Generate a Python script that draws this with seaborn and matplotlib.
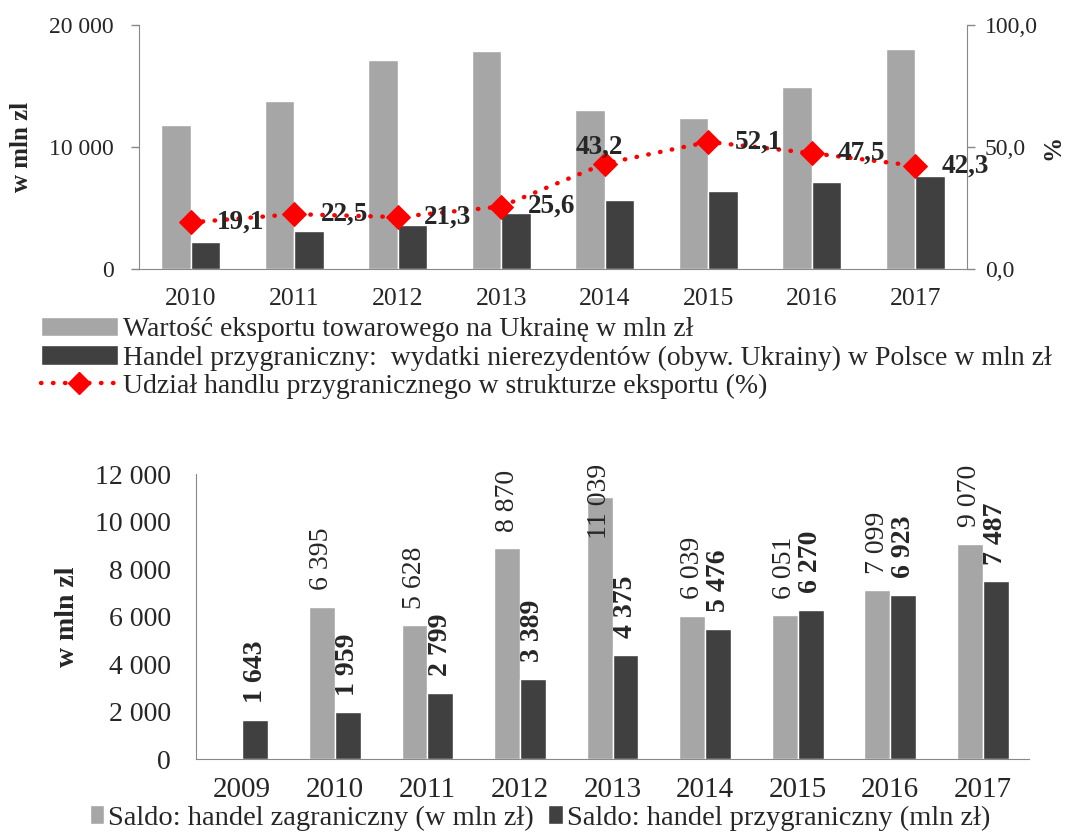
import numpy as np
import pandas as pd
import matplotlib
matplotlib.use('Agg')
import matplotlib.pyplot as plt
import seaborn as sns
from matplotlib.patches import Patch
from matplotlib.lines import Line2D
from matplotlib.ticker import FuncFormatter, FixedLocator

# ---------- Data: top chart ----------
years_top = ['2010', '2011', '2012', '2013', '2014', '2015', '2016', '2017']
export_value = [11800, 13800, 17100, 17900, 13000, 12350, 14950, 18050]
border_spending = [2250, 3100, 3640, 4590, 5620, 6430, 7100, 7630]
border_share = [19.1, 22.5, 21.3, 25.6, 43.2, 52.1, 47.5, 42.3]
top_series = ['Wartość eksportu towarowego na Ukrainę w mln zł',
              'Handel przygraniczny:  wydatki nierezydentów (obyw. Ukrainy) w Polsce w mln zł',
              'Udział handlu przygranicznego w strukturze eksportu (%)']

# ---------- Data: bottom chart ----------
years_bottom = ['2009', '2010', '2011', '2012', '2013', '2014', '2015', '2016', '2017']
saldo_foreign = [np.nan, 6395, 5628, 8870, 11039, 6039, 6051, 7099, 9070]
saldo_border = [1643, 1959, 2799, 3389, 4375, 5476, 6270, 6923, 7487]
bottom_series = ['Saldo: handel zagraniczny (w mln zł)',
                 'Saldo: handel przygraniczny (mln zł)']

LIGHT = '#A6A6A6'
DARK = '#404040'
AXIS = '#888888'

sns.set_style('white')
plt.rcParams['font.family'] = ['Liberation Serif', 'DejaVu Serif']

fig = plt.figure(figsize=(10.83, 8.36), dpi=100)

def thousands(v, pos=None):
    return f'{v:,.0f}'.replace(',', ' ')

# ---------- Top chart ----------
ax1 = fig.add_axes([0.1283, 0.6782, 0.7645, 0.2919])
df_top = pd.DataFrame({
    'Rok': years_top * 2,
    'Seria': [top_series[0]] * len(years_top) + [top_series[1]] * len(years_top),
    'Wartosc': export_value + border_spending,
})
sns.barplot(data=df_top, x='Rok', y='Wartosc', hue='Seria', palette=[LIGHT, DARK],
            width=0.57, gap=0, saturation=1, errorbar=None, legend=False, ax=ax1)
ax1.set_xlim(-0.5, len(years_top) - 0.5)
ax1.set_ylim(0, 20000)
ax1.set_yticks([0, 10000, 20000])
ax1.yaxis.set_major_formatter(FuncFormatter(thousands))
ax1.set_xlabel('')
ax1.set_ylabel('w mln zl', fontsize=18, fontweight='bold')
ax1.yaxis.set_label_coords(-0.128, 0.5)
ax1.xaxis.set_minor_locator(FixedLocator(np.arange(-0.5, len(years_top), 1)))
ax1.tick_params(axis='x', which='major', length=0, pad=14, labelsize=18.5)
ax1.tick_params(axis='x', which='minor', length=6, width=1, color=AXIS, direction='out')
ax1.tick_params(axis='y', length=6, width=1, color=AXIS, direction='out', pad=12, labelsize=17)
for s in ['top', 'right']:
    ax1.spines[s].set_visible(False)
for s in ['left', 'bottom']:
    ax1.spines[s].set_color(AXIS)

ax2 = ax1.twinx()
sns.lineplot(x=np.arange(len(years_top)), y=border_share, ax=ax2, color='red',
             linestyle=(0, (0.1, 2.6)), linewidth=3.2, dash_capstyle='round',
             marker='D', markersize=12, markeredgecolor='red')
ax2.set_xlim(-0.5, len(years_top) - 0.5)
ax2.set_ylim(0, 100)
ax2.set_yticks([0, 50, 100])
ax2.yaxis.set_major_formatter(FuncFormatter(lambda v, p: f'{v:.1f}'.replace('.', ',')))
ax2.tick_params(axis='y', length=6, width=1, color=AXIS, direction='out', pad=7, labelsize=17)
ax2.set_ylabel('%', fontsize=18, fontweight='bold', rotation=90)
ax2.yaxis.set_label_coords(1.09, 0.5)
for s in ['top', 'left', 'bottom']:
    ax2.spines[s].set_visible(False)
ax2.spines['right'].set_color(AXIS)

# label placement: most to the right of the marker, 2014 above it
for i, v in enumerate(border_share):
    if years_top[i] == '2014':
        off, ha, va = (-4, 7), 'center', 'baseline'
    else:
        off, ha, va = (19, 0), 'left', 'center'
    ax2.annotate(f'{v:.1f}'.replace('.', ','), (i, v), xytext=off,
                 textcoords='offset points', ha=ha, va=va,
                 fontsize=19.5, fontweight='bold')

top_handles = [Patch(facecolor=LIGHT), Patch(facecolor=DARK),
               Line2D([], [], color='red', linestyle=(0, (0.1, 2.6)), linewidth=3.2,
                      dash_capstyle='round', marker='D', markersize=11)]
fig.legend(top_handles, top_series, loc='upper left', bbox_to_anchor=(0.038, 0.621),
           frameon=False, fontsize=20, handlelength=2.75, handleheight=0.7,
           handletextpad=0.2, labelspacing=0.1, borderpad=0, borderaxespad=0)

# ---------- Bottom chart ----------
ax3 = fig.add_axes([0.181, 0.0921, 0.7692, 0.3409])
df_bot = pd.DataFrame({
    'Rok': years_bottom * 2,
    'Seria': [bottom_series[0]] * len(years_bottom) + [bottom_series[1]] * len(years_bottom),
    'Wartosc': saldo_foreign + saldo_border,
})
sns.barplot(data=df_bot, x='Rok', y='Wartosc', hue='Seria', palette=[LIGHT, DARK],
            width=0.56, gap=0, saturation=1, errorbar=None, legend=False, ax=ax3)
ax3.set_xlim(-0.5, len(years_bottom) - 0.5)
ax3.set_ylim(0, 12000)
ax3.set_yticks(np.arange(0, 12001, 2000))
ax3.yaxis.set_major_formatter(FuncFormatter(thousands))
ax3.set_xlabel('')
ax3.set_ylabel('w mln zl', fontsize=20, fontweight='bold')
ax3.yaxis.set_label_coords(-0.139, 0.5)
ax3.xaxis.set_minor_locator(FixedLocator(np.arange(-0.5, len(years_bottom), 1)))
ax3.tick_params(axis='x', which='major', length=0, pad=13, labelsize=21)
ax3.tick_params(axis='x', which='minor', length=6, width=1, color=AXIS, direction='out')
ax3.tick_params(axis='y', length=6, width=1, color=AXIS, direction='out', pad=12, labelsize=20)
for s in ['top', 'right']:
    ax3.spines[s].set_visible(False)
for s in ['left', 'bottom']:
    ax3.spines[s].set_color(AXIS)

# rotated value labels; foreign-trade labels regular, border-trade bold
for cont, weight in zip(ax3.containers, ['normal', 'bold']):
    for bar in cont:
        h = bar.get_height()
        if np.isnan(h) or h == 0:
            continue
        xc = bar.get_x() + bar.get_width() / 2
        if h + 700 > 11000:
            ax3.text(xc, 12450, thousands(h), rotation=90, ha='center', va='top',
                     fontsize=20, fontweight=weight, clip_on=False)
        else:
            ax3.annotate(thousands(h), (xc, h), xytext=(0, 12), textcoords='offset points',
                         rotation=90, ha='center', va='bottom', fontsize=20, fontweight=weight)

bot_handles = [Patch(facecolor=LIGHT), Patch(facecolor=DARK)]
fig.legend(bot_handles, bottom_series, loc='upper left', bbox_to_anchor=(0.083, 0.037),
           ncol=2, frameon=False, fontsize=20.5, handlelength=0.5, handleheight=0.65,
           handletextpad=0.15, columnspacing=0.5, borderpad=0, borderaxespad=0)

fig.savefig('out.png', dpi=100)
